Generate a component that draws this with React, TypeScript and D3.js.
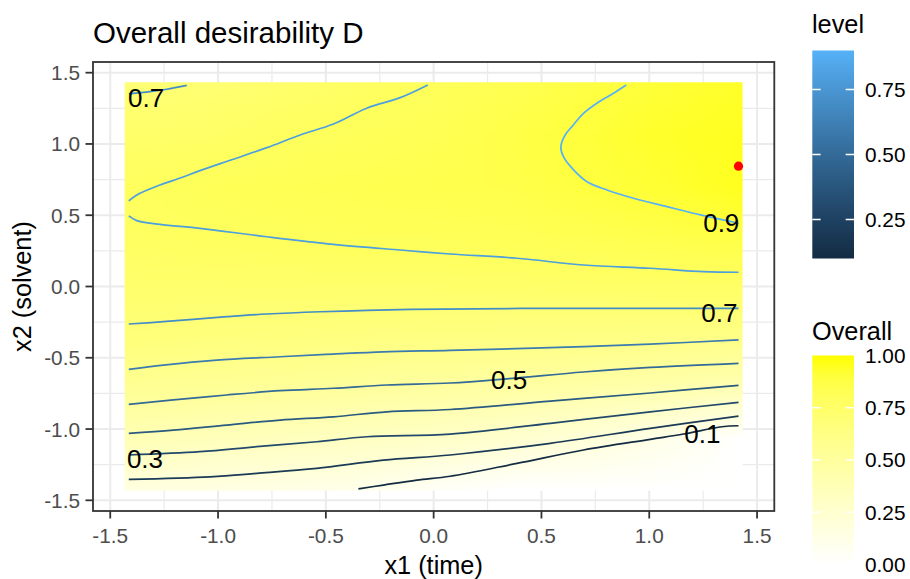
import React, { useMemo } from "react";
import * as d3 from "d3";

const W = 910;
const H = 579;
const FONT = "'Liberation Sans', Arial, Helvetica, sans-serif";

// axis ticks
const axisTicks = [-1.5, -1.0, -0.5, 0.0, 0.5, 1.0, 1.5];
const minorTicks = [-1.25, -0.75, -0.25, 0.25, 0.75, 1.25];
const levelTicks = [0.25, 0.5, 0.75];
const overallTicks = [0, 0.25, 0.5, 0.75, 1.0];

// overall desirability on a coarse grid
const gridX1 = [-1.414, -1.061, -0.707, -0.354, 0, 0.354, 0.707, 1.061, 1.414];
const gridX2 = [1.414, 1.061, 0.707, 0.354, 0, -0.354, -0.707, -1.061, -1.414];
const overallGrid = [
  [0.69, 0.71, 0.74, 0.77, 0.803, 0.84, 0.88, 0.92, 0.95],
  [0.745, 0.76, 0.79, 0.81, 0.83, 0.87, 0.91, 0.95, 0.97],
  [0.79, 0.815, 0.83, 0.84, 0.85, 0.86, 0.895, 0.93, 0.97],
  [0.78, 0.792, 0.8, 0.81, 0.81, 0.82, 0.835, 0.857, 0.875],
  [0.735, 0.736, 0.737, 0.738, 0.74, 0.742, 0.751, 0.756, 0.76],
  [0.671, 0.661, 0.651, 0.641, 0.633, 0.628, 0.623, 0.617, 0.61],
  [0.548, 0.533, 0.52, 0.501, 0.484, 0.47, 0.447, 0.421, 0.388],
  [0.379, 0.357, 0.338, 0.312, 0.292, 0.247, 0.193, 0.105, 0.0],
  [0.16, 0.146, 0.128, 0.105, 0.042, 0.0, 0.0, 0.0, 0.0],
];

// contour lines, [x1, x2]
const contour09 = [
  [0.893, 1.414], [0.834, 1.356], [0.757, 1.286], [0.695, 1.215], [0.641, 1.121],
  [0.61, 1.063], [0.59, 0.981], [0.602, 0.911], [0.649, 0.818], [0.711, 0.735],
  [0.804, 0.677], [0.927, 0.619], [1.082, 0.56], [1.237, 0.502], [1.414, 0.444],
];
const contour08upper = [
  [-0.027, 1.414], [-0.155, 1.325], [-0.31, 1.251], [-0.465, 1.14], [-0.619, 1.063],
  [-0.774, 0.974], [-0.929, 0.893], [-1.084, 0.813], [-1.176, 0.761], [-1.269, 0.712],
  [-1.377, 0.642], [-1.414, 0.6],
];
const contour08lower = [
  [-1.414, 0.495], [-1.377, 0.462], [-1.269, 0.436], [-1.084, 0.408], [-0.774, 0.349],
  [-0.465, 0.296], [-0.155, 0.256], [0.077, 0.228], [0.386, 0.198], [0.695, 0.151],
  [1.005, 0.128], [1.252, 0.104], [1.414, 0.1],
];
const contour07corner = [
  [-1.414, 1.351], [-1.316, 1.367], [-1.238, 1.384], [-1.145, 1.411],
];
const contour07 = [
  [-1.414, -0.263], [-1.254, -0.247], [-0.96, -0.212], [-0.774, -0.193], [-0.527, -0.177],
  [-0.109, -0.16], [0.401, -0.154], [1.005, -0.153], [1.414, -0.153],
];
const contour06 = [
  [-1.414, -0.581], [-1.254, -0.551], [-1.006, -0.516], [-0.712, -0.493], [-0.465, -0.474],
  [-0.233, -0.458], [0.077, -0.448], [0.541, -0.429], [1.005, -0.404], [1.414, -0.375],
];
const contour05 = [
  [-1.414, -0.827], [-1.207, -0.796], [-0.96, -0.761], [-0.712, -0.731], [-0.465, -0.714],
  [-0.217, -0.691], [0.077, -0.677], [0.35, -0.646], [0.694, -0.6], [1.005, -0.568],
  [1.414, -0.539],
];
const contour04 = [
  [-1.414, -1.03], [-1.207, -1.007], [-0.96, -0.972], [-0.712, -0.937], [-0.465, -0.914],
  [-0.217, -0.879], [0.077, -0.863], [0.541, -0.804], [1.005, -0.747], [1.414, -0.693],
];
const contour03 = [
  [-1.414, -1.182], [-1.084, -1.159], [-0.82, -1.124], [-0.542, -1.089], [-0.31, -1.054],
  [0.077, -1.035], [0.541, -0.96], [1.005, -0.879], [1.414, -0.813],
];
const contour02 = [
  [-1.414, -1.353], [-1.037, -1.335], [-0.82, -1.311], [-0.542, -1.276], [-0.233, -1.218],
  [0.077, -1.182], [0.541, -1.1], [1.005, -0.995], [1.414, -0.909],
];
const contour01 = [
  [-0.349, -1.42], [-0.233, -1.393], [-0.078, -1.358], [0.077, -1.331], [0.386, -1.241],
  [0.695, -1.147], [1.005, -1.072], [1.159, -1.035], [1.337, -0.984], [1.414, -0.977],
];

const contourLevels = [0.9, 0.8, 0.8, 0.7, 0.7, 0.6, 0.5, 0.4, 0.3, 0.2, 0.1];
const contourPoints = [
  contour09, contour08upper, contour08lower, contour07corner, contour07,
  contour06, contour05, contour04, contour03, contour02, contour01,
];

// contour labels
const labelText = ["0.7", "0.9", "0.7", "0.5", "0.1", "0.3"];
const labelX1 = [-1.334, 1.334, 1.325, 0.35, 1.246, -1.339];
const labelX2 = [1.323, 0.446, -0.186, -0.656, -1.035, -1.211];

// optimum
const optimumX1 = [1.414];
const optimumX2 = [0.844];

const fmt1 = (v: number) => d3.format(".1f")(v).replace("\u2212", "-");
const fmt2 = (v: number) => d3.format(".2f")(v).replace("\u2212", "-");

export default function App() {
  const xs = d3.scaleLinear().domain([-1.58, 1.58]).range([93, 774.3]);
  const ys = d3.scaleLinear().domain([-1.575, 1.575]).range([511, 62]);
  const fillScale = d3
    .scaleLinear<string>()
    .domain([0, 1])
    .range(["#FFFFFF", "#FFFF00"])
    .interpolate(d3.interpolateLab);
  const levelScale = d3
    .scaleLinear<string>()
    .domain([0.1, 0.9])
    .range(["#132B43", "#56B1F7"])
    .interpolate(d3.interpolateLab);

  const rasterHref = useMemo(() => {
    const nx = gridX1.length;
    const ny = gridX2.length;
    const c = document.createElement("canvas");
    c.width = nx;
    c.height = ny;
    const ctx = c.getContext("2d");
    if (!ctx) return "";
    const img = ctx.createImageData(nx, ny);
    overallGrid.forEach((row, j) =>
      row.forEach((v, i) => {
        const col = d3.rgb(fillScale(v));
        const k = (j * nx + i) * 4;
        img.data[k] = Math.round(col.r);
        img.data[k + 1] = Math.round(col.g);
        img.data[k + 2] = Math.round(col.b);
        img.data[k + 3] = 255;
      })
    );
    ctx.putImageData(img, 0, 0);
    return c.toDataURL();
  }, []);

  const dx = gridX1[1] - gridX1[0];
  const dy = gridX2[0] - gridX2[1];
  const imgX0 = xs(gridX1[0] - dx / 2);
  const imgX1 = xs(gridX1[gridX1.length - 1] + dx / 2);
  const imgY0 = ys(gridX2[0] + dy / 2);
  const imgY1 = ys(gridX2[gridX2.length - 1] - dy / 2);
  const rasterHalf = 1.433;

  const line = d3
    .line<number[]>()
    .x((d) => xs(d[0]))
    .y((d) => ys(d[1]))
    .curve(d3.curveCatmullRom.alpha(0.5));

  const panelL = xs.range()[0];
  const panelR = xs.range()[1];
  const panelT = ys.range()[1];
  const panelB = ys.range()[0];

  const levelBar = d3.scaleLinear().domain([0.1, 0.9]).range([258.5, 50.5]);
  const overallBar = d3.scaleLinear().domain([0, 1]).range([564.5, 355.5]);
  const barX = 812.3;
  const barW = 41.7;
  const levelStops = d3.range(0, 1.0001, 0.1);

  return (
    <svg
      width={W}
      height={H}
      style={{ position: "absolute", left: 0, top: 0, background: "#fff" }}
      fontFamily={FONT}
    >
      <defs>
        <clipPath id="rasterClip">
          <rect
            x={xs(-rasterHalf)}
            y={ys(rasterHalf)}
            width={xs(rasterHalf) - xs(-rasterHalf)}
            height={ys(-rasterHalf) - ys(rasterHalf)}
          />
        </clipPath>
        <linearGradient id="levelGrad" x1="0" y1="1" x2="0" y2="0">
          {levelStops.map((t) => (
            <stop key={t} offset={t} stopColor={levelScale(0.1 + t * 0.8)} />
          ))}
        </linearGradient>
        <linearGradient id="overallGrad" x1="0" y1="1" x2="0" y2="0">
          {levelStops.map((t) => (
            <stop key={t} offset={t} stopColor={fillScale(t)} />
          ))}
        </linearGradient>
      </defs>

      <rect x={0} y={0} width={W} height={H} fill="#fff" />

      {/* grid */}
      <g>
        {minorTicks.map((t) => (
          <line key={"mx" + t} x1={xs(t)} x2={xs(t)} y1={panelT} y2={panelB} stroke="#EBEBEB" strokeWidth={1.2} />
        ))}
        {minorTicks.map((t) => (
          <line key={"my" + t} x1={panelL} x2={panelR} y1={ys(t)} y2={ys(t)} stroke="#EBEBEB" strokeWidth={1.2} />
        ))}
        {axisTicks.map((t) => (
          <line key={"gx" + t} x1={xs(t)} x2={xs(t)} y1={panelT} y2={panelB} stroke="#EBEBEB" strokeWidth={2} />
        ))}
        {axisTicks.map((t) => (
          <line key={"gy" + t} x1={panelL} x2={panelR} y1={ys(t)} y2={ys(t)} stroke="#EBEBEB" strokeWidth={2} />
        ))}
      </g>

      {/* raster */}
      <g clipPath="url(#rasterClip)">
        <image
          href={rasterHref}
          x={imgX0}
          y={imgY0}
          width={imgX1 - imgX0}
          height={imgY1 - imgY0}
          preserveAspectRatio="none"
        />
      </g>

      {/* contours */}
      <g fill="none" strokeWidth={1.7} strokeLinejoin="round" strokeLinecap="butt">
        {contourPoints.map((pts, i) => (
          <path key={"c" + i} d={line(pts) || ""} stroke={levelScale(contourLevels[i])} />
        ))}
      </g>

      {/* contour labels */}
      <g fontSize={26} fill="#000" textAnchor="middle">
        {labelText.map((t, i) => (
          <text key={"l" + i} x={xs(labelX1[i])} y={ys(labelX2[i])} dy="0.36em">
            {t}
          </text>
        ))}
      </g>

      {/* optimum */}
      {optimumX1.map((v, i) => (
        <circle key={"o" + i} cx={xs(v)} cy={ys(optimumX2[i])} r={4.6} fill="#FF0000" />
      ))}

      {/* panel border */}
      <rect
        x={panelL}
        y={panelT}
        width={panelR - panelL}
        height={panelB - panelT}
        fill="none"
        stroke="#333333"
        strokeWidth={1.8}
      />

      {/* axes */}
      <g stroke="#333333" strokeWidth={1.8}>
        {axisTicks.map((t) => (
          <line key={"tx" + t} x1={xs(t)} x2={xs(t)} y1={panelB} y2={panelB + 7.5} />
        ))}
        {axisTicks.map((t) => (
          <line key={"ty" + t} x1={panelL - 7.5} x2={panelL} y1={ys(t)} y2={ys(t)} />
        ))}
      </g>
      <g fontSize={20.8} fill="#4D4D4D">
        {axisTicks.map((t) => (
          <text key={"xl" + t} x={xs(t)} y={543} textAnchor="middle">
            {fmt1(t)}
          </text>
        ))}
        {axisTicks.map((t) => (
          <text key={"yl" + t} x={80} y={ys(t)} dy="0.36em" textAnchor="end">
            {fmt1(t)}
          </text>
        ))}
      </g>
      <text x={(panelL + panelR) / 2} y={574} fontSize={25.3} textAnchor="middle" fill="#000">
        x1 (time)
      </text>
      <text
        transform={`translate(31,${(panelT + panelB) / 2}) rotate(-90)`}
        fontSize={25.3}
        textAnchor="middle"
        fill="#000"
      >
        x2 (solvent)
      </text>
      <text x={93} y={43.3} fontSize={29.5} fill="#000">
        Overall desirability D
      </text>

      {/* legend: level */}
      <text x={812} y={33} fontSize={25.3} fill="#000">
        level
      </text>
      <rect
        x={barX}
        y={levelBar(0.9)}
        width={barW}
        height={levelBar(0.1) - levelBar(0.9)}
        fill="url(#levelGrad)"
      />
      <g stroke="#fff" strokeWidth={1.5}>
        {levelTicks.map((t) => (
          <g key={"lt" + t}>
            <line x1={barX} x2={barX + barW / 5} y1={levelBar(t)} y2={levelBar(t)} />
            <line x1={barX + barW - barW / 5} x2={barX + barW} y1={levelBar(t)} y2={levelBar(t)} />
          </g>
        ))}
      </g>
      <g fontSize={20.8} fill="#000">
        {levelTicks.map((t) => (
          <text key={"ltl" + t} x={865} y={levelBar(t)} dy="0.36em">
            {fmt2(t)}
          </text>
        ))}
      </g>

      {/* legend: Overall */}
      <text x={812} y={340} fontSize={25.3} fill="#000">
        Overall
      </text>
      <rect
        x={barX}
        y={overallBar(1)}
        width={barW}
        height={overallBar(0) - overallBar(1)}
        fill="url(#overallGrad)"
      />
      <g stroke="#fff" strokeWidth={1.5}>
        {overallTicks.slice(1, 4).map((t) => (
          <g key={"ot" + t}>
            <line x1={barX} x2={barX + barW / 5} y1={overallBar(t)} y2={overallBar(t)} />
            <line x1={barX + barW - barW / 5} x2={barX + barW} y1={overallBar(t)} y2={overallBar(t)} />
          </g>
        ))}
      </g>
      <g fontSize={20.8} fill="#000">
        {overallTicks.map((t) => (
          <text key={"otl" + t} x={865} y={overallBar(t)} dy="0.36em">
            {fmt2(t)}
          </text>
        ))}
      </g>
    </svg>
  );
}
